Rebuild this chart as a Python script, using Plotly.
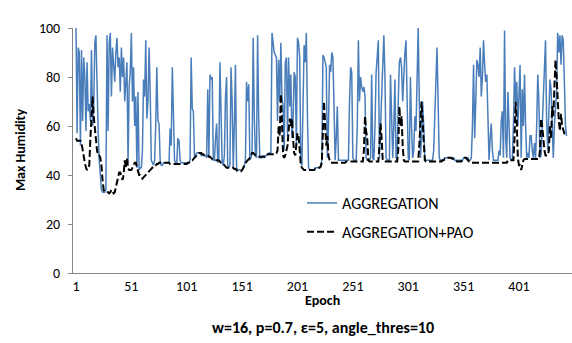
import plotly.graph_objects as go

epochs = list(range(1, 445))

aggregation = [
    100, 57, 92, 90, 52, 91, 62, 88, 80, 58,
    86, 66, 69, 62, 91, 60, 67, 94, 97, 70,
    58, 46, 40, 34, 33, 33, 33, 34, 97, 58,
    94, 98, 72, 92, 86, 78, 90, 96, 84, 88,
    74, 92, 80, 88, 70, 78, 86, 45, 76, 82,
    98, 70, 84, 60, 72, 43, 74, 42, 43, 43,
    50, 79, 72, 95, 63, 70, 92, 74, 46, 45,
    44, 46, 60, 84, 62, 61, 46, 44, 44, 45,
    45, 45, 45, 45, 45, 59, 52, 84, 60, 46,
    45, 45, 55, 54, 46, 45, 45, 45, 45, 45,
    45, 45, 45, 46, 88, 67, 66, 47, 48, 49,
    49, 49, 49, 48, 48, 48, 48, 48, 47, 75,
    47, 81, 79, 80, 46, 46, 55, 61, 45, 47,
    86, 60, 45, 44, 48, 72, 80, 44, 43, 44,
    84, 70, 43, 60, 85, 43, 42, 42, 42, 42,
    42, 43, 44, 46, 78, 70, 77, 46, 47, 49,
    96, 64, 48, 47, 97, 63, 47, 47, 47, 48,
    47, 48, 48, 48, 49, 49, 49, 98, 93, 90,
    89, 88, 62, 87, 70, 94, 72, 68, 50, 86,
    88, 56, 88, 68, 81, 55, 62, 82, 80, 52,
    96, 94, 88, 45, 44, 80, 93, 86, 98, 64,
    43, 42, 42, 42, 42, 42, 43, 43, 43, 43,
    43, 44, 46, 89, 88, 86, 84, 47, 60, 85,
    82, 90, 88, 68, 46, 55, 68, 46, 46, 46,
    46, 46, 46, 46, 46, 46, 46, 70, 84, 82,
    47, 46, 46, 46, 60, 95, 70, 80, 76, 74,
    76, 72, 47, 46, 46, 46, 47, 81, 47, 46,
    60, 82, 88, 95, 47, 60, 75, 92, 97, 80,
    47, 46, 46, 46, 81, 60, 47, 60, 79, 47,
    46, 70, 86, 88, 84, 70, 84, 90, 95, 60,
    47, 46, 80, 60, 47, 50, 64, 58, 80, 100,
    70, 47, 55, 70, 60, 47, 46, 46, 46, 46,
    46, 46, 46, 50, 64, 80, 92, 70, 47, 46,
    46, 46, 46, 47, 47, 47, 47, 47, 47, 47,
    47, 47, 46, 46, 46, 46, 46, 46, 46, 46,
    47, 47, 47, 47, 47, 46, 46, 47, 60, 85,
    55, 70, 87, 85, 80, 92, 72, 80, 95, 85,
    78, 81, 60, 46, 55, 61, 50, 46, 46, 46,
    46, 46, 50, 48, 62, 66, 47, 99, 55, 47,
    74, 60, 47, 46, 46, 60, 84, 70, 78, 60,
    70, 85, 47, 75, 60, 81, 60, 47, 49, 47,
    56, 56, 50, 47, 53, 47, 60, 81, 70, 47,
    48, 60, 70, 88, 95, 62, 50, 65, 79, 75,
    60, 47, 60, 67, 74, 98, 90, 97, 85, 97,
    95, 78, 60, 56,
]

aggregation_pao = [
    55, 54, 54, 54, 54, 53, 50, 46, 45, 43,
    42, 43, 44, 55, 66, 72, 64, 58, 56, 50,
    48, 48, 47, 44, 38, 34, 33, 33, 33, 33,
    32.5, 33, 34, 33, 32.5, 33, 35, 37, 40, 41,
    41, 39, 38, 40, 46, 43, 47, 43, 42, 42,
    42, 43, 44, 45, 45, 43, 41, 40, 40, 39,
    38.5, 39, 39.5, 40, 40.5, 41, 41.5, 42, 42.5, 43,
    43.5, 44, 44, 44.5, 44.5, 45, 45, 45, 45, 45,
    45, 45, 45, 45, 45, 44.5, 44.5, 44.5, 44.5, 44.5,
    44.5, 44.5, 44.5, 44.5, 44.5, 44.5, 44.5, 44.5, 44.5, 44.5,
    44.5, 45, 45, 45.5, 46, 46, 46.5, 47, 47.5, 48,
    48.5, 49, 49, 49, 48.5, 48.5, 48, 48, 48, 48,
    47.5, 47.5, 47, 46.5, 46, 46, 46, 46, 46, 46,
    45.5, 45, 45, 44.5, 44, 43.5, 43, 43, 43, 43,
    43, 43, 43, 42.5, 42.5, 42, 41.5, 41.5, 41.5, 41.5,
    42, 43, 44, 45, 45.5, 46, 46.5, 47, 48, 49,
    49, 48.5, 48, 47.5, 47.5, 47.5, 47.5, 47.5, 47.5, 47.5,
    47.5, 47.5, 47.5, 48.5, 48.5, 48.5, 48.5, 48.5, 48.5, 48.5,
    49, 49, 50, 60, 56, 73, 62, 48, 47, 48,
    50, 52, 58, 63, 60, 63, 55, 49, 48, 52,
    57, 56, 50, 44, 43, 42.5, 42, 42, 42, 42,
    42, 42, 42, 42, 42, 42, 42.5, 42.5, 42.5, 43,
    43, 43.5, 45, 58, 70, 60, 52, 56, 48, 46,
    45, 45, 45, 45, 45, 45, 45, 45, 45, 45,
    45, 45, 45, 45, 45.5, 45.5, 45.5, 45.5, 45.5, 45.5,
    45.5, 45.5, 45.5, 45.5, 45.5, 45.5, 45.5, 45.5, 45.5, 45.5,
    50, 64, 58, 55, 46, 45.5, 45.5, 45.5, 45.5, 45.5,
    45.5, 45.5, 45.5, 45.5, 52, 61, 55, 46, 45.5, 45.5,
    45.5, 45.5, 45.5, 45.5, 45.5, 45.5, 45.5, 45.5, 45.5, 45.5,
    45.5, 50, 68, 60, 64, 52, 46, 45.5, 45.5, 45.5,
    45.5, 45.5, 45.5, 45.5, 45.5, 45.5, 45.5, 45.5, 45.5, 45.5,
    52, 64, 70, 62, 50, 46, 45.5, 45.5, 45.5, 45.5,
    45.5, 45.5, 45.5, 45.5, 45.5, 45.5, 45.5, 45.5, 45.5, 45.5,
    45.5, 46, 46, 46.5, 46.5, 47, 47, 47, 47, 47,
    46.5, 46.5, 46, 46, 45.5, 45.5, 45.5, 45.5, 45.5, 46,
    46.5, 47, 47, 46.5, 46, 45.5, 45.5, 45, 45, 45,
    45, 45, 45, 45, 45, 45, 45, 45, 45, 45,
    45, 45, 45, 45, 45, 45, 45, 45, 45, 45,
    45, 45, 45, 45, 45, 45, 45, 45, 45, 45,
    46, 46, 46, 46, 46, 46, 55, 70, 62, 47,
    44, 44, 42, 44, 46, 46.5, 46.5, 46.5, 46.5, 46.5,
    46.5, 46.5, 46.5, 46.5, 46.5, 46.5, 46.5, 46.5, 46.5, 50,
    63, 60, 53, 50, 48, 48, 48, 50, 60, 55,
    68, 64, 75, 87, 80, 70, 62, 58, 65, 60,
    58, 57, 56, 56,
]

x_ticks = [1, 51, 101, 151, 201, 251, 301, 351, 401]
y_ticks = [0, 20, 40, 60, 80, 100]

FONT = "Carlito, Calibri, Lato, sans-serif"

fig = go.Figure()
fig.add_trace(go.Scatter(
    x=epochs, y=aggregation, mode="lines", name="AGGREGATION",
    legendgroup="a",
    line=dict(color="#4A7EBB", width=1.5),
))
fig.add_trace(go.Scatter(
    x=epochs, y=aggregation_pao, mode="lines", name="AGGREGATION+PAO",
    legendgroup="b",
    line=dict(color="#000000", width=2, dash="7px,3px"),
))

fig.update_layout(
    width=572, height=343,
    margin=dict(l=73, r=0, t=28, b=70),
    paper_bgcolor="white", plot_bgcolor="white",
    font=dict(family=FONT, size=14, color="black"),
    showlegend=True,
    legend=dict(
        x=0.459, y=0.355, xanchor="left", yanchor="top",
        bgcolor="rgba(0,0,0,0)", borderwidth=0,
        font=dict(family=FONT, size=16, color="black"),
        traceorder="grouped", tracegroupgap=5,
    ),
    xaxis=dict(
        range=[-1.7, 448.9],
        tickmode="array", tickvals=x_ticks, ticktext=[str(v) for v in x_ticks],
        showline=True, linecolor="#868686", linewidth=1,
        showgrid=False, zeroline=False, ticks="",
        tickfont=dict(family=FONT, size=14, color="black"),
    ),
    yaxis=dict(
        range=[0, 100], tickmode="array", tickvals=y_ticks,
        showline=True, linecolor="#868686", linewidth=1,
        showgrid=False, zeroline=False,
        ticks="outside", ticklen=4, tickcolor="#868686",
        ticklabelstandoff=5,
        tickfont=dict(family=FONT, size=14, color="black"),
    ),
    annotations=[
        dict(text="<b>Epoch</b>", xref="paper", yref="paper", x=0.5, y=-0.114,
             showarrow=False, xanchor="center", yanchor="middle",
             font=dict(family=FONT, size=14, color="black")),
        dict(text="<b>w=16, p=0.7, ε=5, angle_thres=10</b>", xref="paper", yref="paper",
             x=0.5, y=-0.222, showarrow=False, xanchor="center", yanchor="middle",
             font=dict(family=FONT, size=16, color="black")),
        dict(text="<b>Max Humidity</b>", xref="paper", yref="paper", x=-0.106, y=0.502,
             showarrow=False, xanchor="center", yanchor="middle", textangle=-90,
             font=dict(family=FONT, size=14, color="black")),
    ],
)

fig.write_html("out.html")
